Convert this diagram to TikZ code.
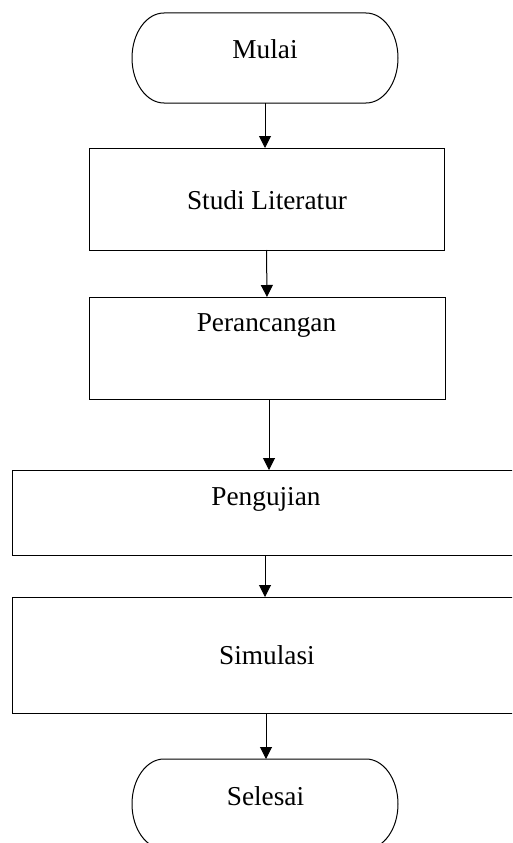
\documentclass[tikz,border=0pt]{standalone}
\usepackage{fontspec}
\setmainfont{Liberation Serif}
\usetikzlibrary{arrows.meta,calc}
\tikzset{
  line/.style={line width=1pt, draw=black},
  boxnode/.style={line, rectangle, inner sep=0pt, outer sep=0pt},
  termnode/.style={rectangle, inner sep=0pt, outer sep=0pt},
  lbl/.style={anchor=base, inner sep=0pt, font=\fontsize{27.3}{30}\selectfont},
  arr/.style={line, -{Triangle[width=12pt,length=12pt]}}
}
\newcommand{\stadium}[1]{%
  \draw[line] ([xshift=32pt]#1.north west) -- ([xshift=-32pt]#1.north east)
    arc[start angle=90,end angle=-90,x radius=32pt,y radius=45pt]
    -- ([xshift=32pt]#1.south west)
    arc[start angle=270,end angle=90,x radius=32pt,y radius=45pt] -- cycle;}
\begin{document}
\begin{tikzpicture}[x=1pt,y=-1pt]
\useasboundingbox (0,0) rectangle (512,843);
\clip (0,0) rectangle (512,843);
% terminals
\node[termnode, minimum width=266pt, minimum height=90pt] (mulai) at (265,58) {};
\stadium{mulai}
\node[lbl] (tmulai) at (265,59) {Mulai};
\node[termnode, minimum width=266pt, minimum height=90pt] (selesai) at (265,804) {};
\stadium{selesai}
\node[lbl] (tselesai) at (265.5,805) {Selesai};
% boxes
\node[boxnode, minimum width=355pt, minimum height=102pt] (studi) at (266.5,199) {};
\node[lbl] (tstudi) at (267,209) {Studi Literatur};
\node[boxnode, minimum width=356pt, minimum height=102pt] (peran) at (267,348) {};
\node[lbl] (tperan) at (266.5,331) {Perancangan};
\node[boxnode, minimum width=518pt, minimum height=85pt] (peng) at (271,512.5) {};
\node[lbl] (tpeng) at (266,505) {Pengujian};
\node[boxnode, minimum width=518pt, minimum height=116pt] (sim) at (271,655) {};
\node[lbl] (tsim) at (267,664) {Simulasi};
% connectors
\draw[arr] (mulai.south) -- (mulai.south |- studi.north);
\draw[arr] (studi.south) -- (peran.north);
\draw[arr] ([xshift=2pt]peran.south) -- ([xshift=2pt]peran.south |- peng.north);
\draw[arr] ([xshift=-6pt]peng.south) -- ([xshift=-6pt]peng.south |- sim.north);
\draw[arr] ([xshift=-5pt]sim.south) -- ([xshift=-5pt]sim.south |- selesai.north);
\end{tikzpicture}
\end{document}
